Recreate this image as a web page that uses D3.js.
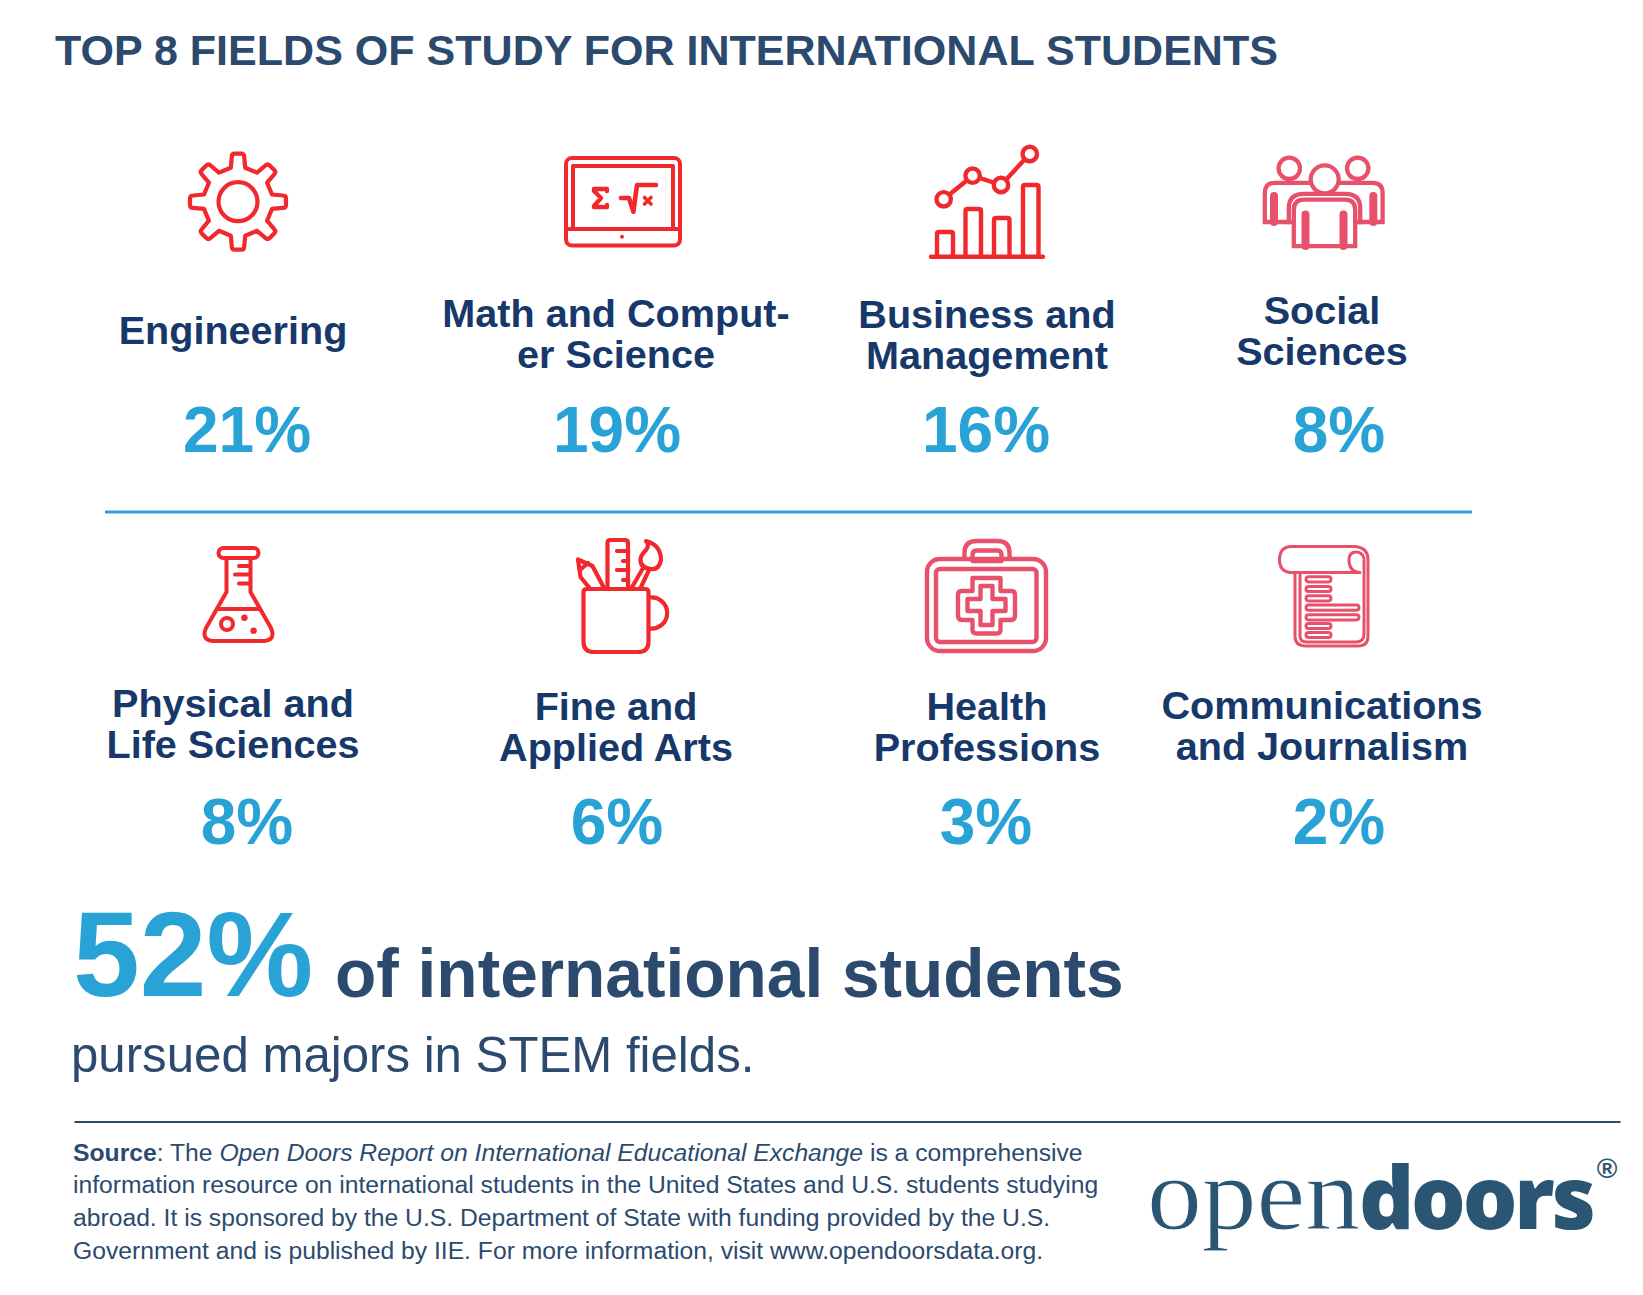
<!DOCTYPE html>
<html><head><meta charset="utf-8">
<script src="https://cdn.jsdelivr.net/npm/d3@7"></script>
<style>html,body{margin:0;padding:0;background:#fff}svg{display:block}text{font-family:"Liberation Sans",Arial,sans-serif}</style>
</head><body><div id="c"></div>
<script>
const title = "TOP 8 FIELDS OF STUDY FOR INTERNATIONAL STUDENTS";
const fields = ["Engineering","Math and Comput-|er Science","Business and|Management","Social|Sciences","Physical and|Life Sciences","Fine and|Applied Arts","Health|Professions","Communications|and Journalism"];
const shares = [21,19,16,8,8,6,3,2];
const stemShare = 52;
const stemLine1 = "of international students";
const stemLine2 = "pursued majors in STEM fields.";
const sourceLines = [
 [["Source",700,"normal"],[": The ",400,"normal"],["Open Doors Report on International Educational Exchange",400,"italic"],[" is a comprehensive",400,"normal"]],
 [["information resource on international students in the United States and U.S. students studying",400,"normal"]],
 [["abroad. It is sponsored by the U.S. Department of State with funding provided by the U.S.",400,"normal"]],
 [["Government and is published by IIE. For more information, visit www.opendoorsdata.org.",400,"normal"]]
];

const W=1643,H=1295;
const svg=d3.select("#c").append("svg").attr("width",W).attr("height",H).attr("viewBox",[0,0,W,H]);
const NAVY="#16386a",SLATE="#2c4a6e",BLUE="#29a3d6",RED="#f1282c",PINK="#e8516c",LOGO="#2a5674";

// layout scales
const labelX=d3.scaleOrdinal().domain(fields).range([233,616,987,1322,233,616,987,1322]);
const pctX=d3.scaleOrdinal().domain(fields).range([247,617,986,1339,247,617,986,1339]);
const labelY=d3.scaleOrdinal().domain(fields).range([344,327,328,324,717,720,720,719]);
const pctY=d3.scaleOrdinal().domain(fields).range([452,452,452,452,844,844,844,844]);

svg.append("text").attr("x",55).attr("y",65).attr("fill",SLATE).attr("font-size",43.05).attr("font-weight",700).text(title);

const cell=svg.selectAll("g.field").data(fields).join("g").attr("class","field");
cell.append("text").attr("text-anchor","middle").attr("fill",NAVY).attr("font-size",39.6).attr("font-weight",700)
  .selectAll("tspan").data(d=>d.split("|").map((t,i)=>({t,i,d}))).join("tspan")
  .attr("x",o=>labelX(o.d)).attr("y",o=>labelY(o.d)+o.i*41).text(o=>o.t);
cell.append("text").attr("text-anchor","middle").attr("fill",BLUE).attr("font-size",64).attr("font-weight",700)
  .attr("x",d=>pctX(d)).attr("y",d=>pctY(d)).text((d,i)=>shares[i]+"%");

svg.append("line").attr("x1",105).attr("x2",1472).attr("y1",512).attr("y2",512).attr("stroke",BLUE).attr("stroke-width",3);
svg.append("line").attr("x1",74.5).attr("x2",1620.5).attr("y1",1122).attr("y2",1122).attr("stroke",SLATE).attr("stroke-width",2);

svg.append("text").attr("x",73).attr("y",996).attr("fill",BLUE).attr("font-size",120).attr("font-weight",700).text(stemShare+"%");
svg.append("text").attr("x",335).attr("y",997).attr("fill",SLATE).attr("font-size",67.6).attr("font-weight",700).text(stemLine1);
svg.append("text").attr("x",71).attr("y",1072).attr("fill",SLATE).attr("font-size",49.2).text(stemLine2);

const srcY=[1161,1193,1226,1259];
sourceLines.forEach((runs,i)=>{
  const t=svg.append("text").attr("x",73).attr("y",srcY[i]).attr("fill",SLATE).attr("font-size",24.7);
  runs.forEach(r=>t.append("tspan").attr("font-weight",r[1]).attr("font-style",r[2]).text(r[0]));
});

// logo
svg.append("text").attr("x",1147).attr("y",1229).attr("fill",LOGO).attr("stroke","#fff").attr("stroke-width",0.9).style("font-family","'Liberation Serif',serif").attr("font-size",104).attr("textLength",213).attr("lengthAdjust","spacingAndGlyphs").text("open");
svg.append("text").attr("x",1359).attr("y",1229).attr("fill",LOGO).style("font-family","'Open Sans',sans-serif").attr("font-weight",800).attr("font-size",86).attr("letter-spacing",-3.2).text("doors");
svg.append("text").attr("x",1607).attr("y",1178).attr("text-anchor","middle").attr("fill",LOGO).attr("font-size",28).attr("font-weight",700).text("®");

// icons
function ink(color,sw){return svg.append("g").attr("fill","none").attr("stroke",color).attr("stroke-width",sw).attr("stroke-linecap","round").attr("stroke-linejoin","round");}
function rr(g,x0,y0,x1,y1,r){return g.append("rect").attr("x",x0).attr("y",y0).attr("width",x1-x0).attr("height",y1-y0).attr("rx",r);}
function ln(g,d){return g.append("path").attr("d",d);}
function ci(g,x,y,r){return g.append("circle").attr("cx",x).attr("cy",y).attr("r",r);}

// gear
{const g=ink(RED,4.2).attr("transform","translate(238,201.7)");
 ci(g,0,0,19.5);
 const a=d3.range(8);let d="";
 const R=48,Rb=34,w=6.2;
 a.forEach(k=>{const t=k*Math.PI/4-Math.PI/2;const c=Math.cos(t),s=Math.sin(t);
  const P=(r,o)=>[(r*c-o*s).toFixed(1),(r*s+o*c).toFixed(1)].join(",");
  d+=(k?"L":"M")+P(Rb,-w-1)+"L"+P(R-3,-w)+"Q"+P(R,-w)+" "+P(R,-w+3)+"L"+P(R,w-3)+"Q"+P(R,w)+" "+P(R-3,w)+"L"+P(Rb,w+1);});
 ln(g,d+"Z");}
// tablet
{const g=ink(RED,4).attr("transform","translate(-2,0)");
 rr(g,568,158,682,245.5,6);rr(g,575,166,675,229,0);ln(g,"M568,229H682");
 g.append("circle").attr("cx",624).attr("cy",236.7).attr("r",2).attr("fill",RED).attr("stroke","none");
 ln(g,"M609,191V189H596V191L603,198L596,206V207H609V205").attr("stroke-width",4.4);
 ln(g,"M623,198H631L635.4,211.7L639,185H658").attr("stroke-width",4.6);
 ln(g,"M646.5,197.5L653,204M653,197.5L646.5,204").attr("stroke-width",3.6);}
// trend
{const g=ink(RED,4.4);
 ln(g,"M931,256.7H1043");
 [[937,953,232],[965.5,981,209],[994,1009.5,218],[1023,1038.5,185]].forEach(b=>ln(g,`M${b[0]},256V${b[2]+2}Q${b[0]},${b[2]} ${b[0]+2},${b[2]}H${b[1]-2}Q${b[1]},${b[2]} ${b[1]},${b[2]+2}V256`));
 const pts=[[943.7,199.3],[972.6,175.7],[1001,185],[1029.8,154]];
 ln(g,"M"+pts.join("L"));
 pts.forEach(p=>ci(g,p[0],p[1],7.2).attr("fill","#fff"));}
// people
{const g=ink(PINK,4.3).attr("stroke-linecap","butt").attr("stroke-linejoin","miter");
 ci(g,1289.3,168.3,10.7);ci(g,1357.7,168.3,10.7);
 ln(g,"M1290,222H1264.8V193Q1264.8,182.8 1275,182.8H1372.5Q1382.6,182.8 1382.6,193V222H1358");
 ln(g,"M1274,222V196M1373.3,222V196").attr("stroke-width",8).attr("stroke-linecap","round");
 ln(g,"M1293.8,246.2V222H1288.8V208Q1288.8,193.8 1304,193.8H1345Q1360.2,193.8 1360.2,208V222H1355.2V246.2Z").attr("fill","#fff");
 ln(g,"M1293.8,222V210Q1293.8,199.6 1304,199.6H1345Q1355.2,199.6 1355.2,210V222");
 ln(g,"M1305.5,246V214.5M1343.5,246V214.5").attr("stroke-width",8).attr("stroke-linecap","round");
 ci(g,1324.7,179.3,14).attr("fill","#fff");}
// flask
{const g=ink(RED,4);
 rr(g,218.5,548,258.5,558,5);
 ln(g,"M226.5,558V592L206,628Q201,640 213,641H264Q276,640 271,628L250.5,592V558");
 ln(g,"M217,609H259");
 ln(g,"M239,566H250M235,574.5H250M239,583.5H250");
 ci(g,227,624,6);
 [[244.4,617.7],[253.6,630.7]].forEach(p=>g.append("circle").attr("cx",p[0]).attr("cy",p[1]).attr("r",3.2).attr("fill",RED).attr("stroke","none"));}
// mug
{const g=ink(RED,4.2).attr("transform","translate(-2,0)");
 ln(g,"M585.5,592Q585.5,589 589,589H647Q650.5,589 650.5,592V642Q650.5,652 640,652H596Q585.5,652 585.5,642Z");
 ln(g,"M651,597.5A15.7,15.7 0 1 1 651,628.5");
 ln(g,"M609.5,588V543Q609.5,540 612.5,540H627Q630,540 630,543V588");
 ln(g,"M630,551H619M630,561H625M630,570H619M630,580H625");
 ln(g,"M606,588L594.5,566L580,559.5L582.5,577L591.5,588M582,570L590,563");
 ln(g,"M633.5,588L646,566.5M642.5,588L651,570");
 ln(g,"M648,541Q663,545 663,560Q661,570 653,569Q642,568 642.5,559Q643,555 648,550Q652,545 648,541Z");}
// case
{const g=ink(PINK,4.4).attr("transform","translate(-0.5,0)");
 rr(g,927.5,559,1046.5,651,13);rr(g,936.5,569,1037,642,4);
 ln(g,"M965,558V553Q965,541 977,541H998Q1010,541 1010,553V558");
 ln(g,"M973,561V555Q973,550.5 977,550.5H998Q1002,550.5 1002,555V561H973");
 ln(g,"M973,578H1001V591H1012Q1015.5,591 1015.5,595V615Q1015.5,620 1012,620H1001V630Q1001,633.5 997,633.5H977Q973,633.5 973,630V620H962Q958.5,620 958.5,615V595Q958.5,591 962,591H973Z");
 ln(g,"M981,586H993V599H1006V611H993V625H981V611H968V599H981Z");}
// doc
{const g=ink(PINK,3).attr("transform","translate(-2,0)");
 ln(g,"M1362,572.5H1292Q1281.5,571 1281.5,560Q1281.5,547 1293,546.5H1356Q1370,547 1370,560V636Q1370,646 1360,646H1308Q1297,646 1297,636V572.5");
 ln(g,"M1302,572.5V636Q1302,642 1309,642H1358Q1366,642 1366,634V560");
 ln(g,"M1361,572.5Q1351,571 1351,560Q1351,552 1358,552Q1364,552 1366,558");
 [[579.3,1333],[589,1333],[598.3,1333],[607.7,1361],[617.3,1361],[626,1333],[635,1333]].forEach(l=>rr(g,1308,l[0]-2.6,l[1],l[0]+2.6,2.6));}
</script></body></html>
